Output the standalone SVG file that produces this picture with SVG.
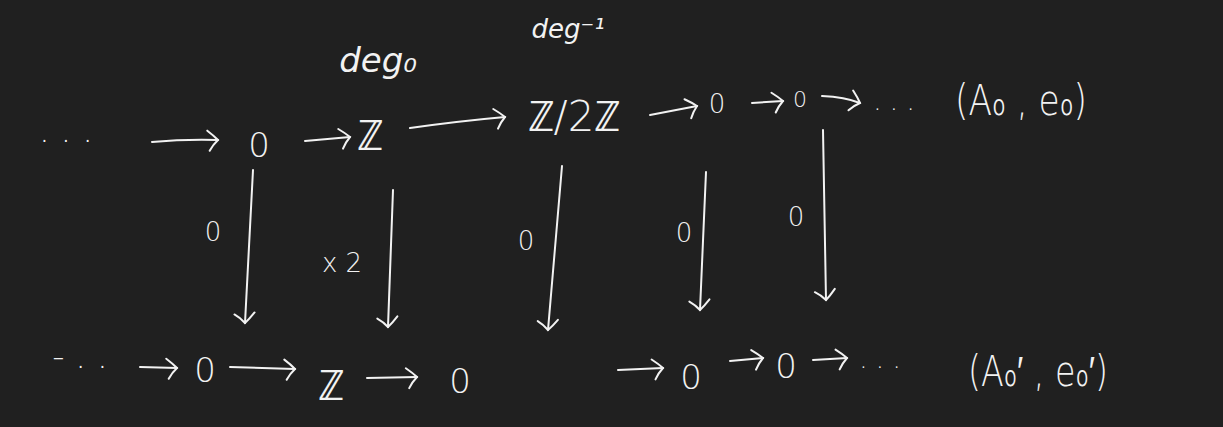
<svg xmlns="http://www.w3.org/2000/svg" width="1223" height="427" viewBox="0 0 1223 427">
<style>
text{fill:#f2f2f2;font-family:"DejaVu Sans","Liberation Sans",sans-serif;font-weight:200;text-anchor:middle}
.a{fill:none;stroke:#f2f2f2;stroke-width:2;stroke-linecap:round;marker-end:url(#h)}
.xl{font-size:42px}
.lg{font-size:34px}
.md{font-size:26px}
.sm{font-size:22px}
.dg{font-style:italic;font-weight:200;font-family:"DejaVu Sans","Liberation Sans",sans-serif}
</style>
<defs>
<marker id="h" markerUnits="userSpaceOnUse" markerWidth="30" markerHeight="30" refX="0" refY="0" viewBox="-15 -15 30 30" orient="auto" overflow="visible">
<path d="M-11,-9 Q-4,-4 0,0 Q-5,5 -8,11" fill="none" stroke="#f2f2f2" stroke-width="2" stroke-linecap="round"/>
</marker>
</defs>
<rect width="1223" height="427" fill="#202020"/>
<g id="labels">
<text class="dg" font-size="34" x="378" y="72">deg₀</text>
<text class="dg" font-size="26" x="568" y="38">deg⁻¹</text>
</g>
<g id="top-row">
<g id="t-dots"><text class="lg" x="66" y="142">. . .</text></g>
<g id="t0"><text class="lg" x="259" y="157">0</text></g>
<g id="t1"><text class="xl" x="370" y="150">ℤ</text></g>
<g id="t2"><text class="xl" x="574" y="131">ℤ/2ℤ</text></g>
<g id="t3"><text class="md" x="717" y="113">0</text></g>
<g id="t4"><text class="sm" x="800" y="107">0</text></g>
<g id="t-dots2"><text class="md" x="894" y="110">. . .</text></g>
<g id="t-pair"><text class="xl" x="1021" y="115" textLength="132" lengthAdjust="spacingAndGlyphs">(A₀ , e₀)</text></g>
</g>
<g id="bottom-row">
<g id="b-dots"><text class="lg" x="80" y="368">- . .</text></g>
<g id="b0"><text class="lg" x="205" y="382">0</text></g>
<g id="b1"><text class="xl" x="331" y="400">ℤ</text></g>
<g id="b2"><text class="lg" x="460" y="393">0</text></g>
<g id="b3"><text class="lg" x="691" y="389">0</text></g>
<g id="b4"><text class="lg" x="786" y="378">0</text></g>
<g id="b-dots2"><text class="md" x="880" y="368">. . .</text></g>
<g id="b-pair"><text class="xl" x="1038" y="386" textLength="140" lengthAdjust="spacingAndGlyphs">(A₀′ , e₀′)</text></g>
</g>
<g id="map-labels">
<text class="md" x="213" y="241">0</text>
<text class="md" x="342" y="272">x 2</text>
<text class="md" x="526" y="250">0</text>
<text class="md" x="684" y="242">0</text>
<text class="md" x="796" y="226">0</text>
</g>
<g id="connectors">
<path class="a" d="M152,142 Q185,139 218,140"/>
<path class="a" d="M305,141 L350,137"/>
<path class="a" d="M410,128 Q460,121 505,117"/>
<path class="a" d="M650,115 L697,106"/>
<path class="a" d="M752,103 L783,101"/>
<path class="a" d="M822,96 Q845,97 860,103"/>
<path class="a" d="M140,367 L177,368"/>
<path class="a" d="M230,367 L295,369"/>
<path class="a" d="M367,378 L417,377"/>
<path class="a" d="M618,370 L663,368"/>
<path class="a" d="M730,361 L763,358"/>
<path class="a" d="M813,360 L847,358"/>
<path class="a" d="M253,170 L245,323"/>
<path class="a" d="M393,190 L388,327"/>
<path class="a" d="M562,166 L548,330"/>
<path class="a" d="M706,172 L700,310"/>
<path class="a" d="M823,130 L826,300"/>
</g>
</svg>
